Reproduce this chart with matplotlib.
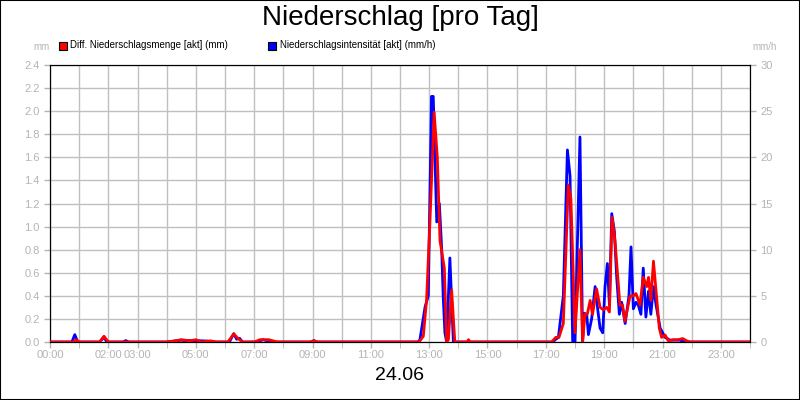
import matplotlib
matplotlib.use("Agg")
import matplotlib.pyplot as plt
from matplotlib.patches import Rectangle

plt.rcParams['font.family'] = ['Liberation Sans', 'DejaVu Sans']

# blue: Niederschlagsintensität (mm/h), time in hours
blue_t = [0, 0.75, 0.85, 0.95, 1.05, 1.7, 1.85, 1.95, 2.5, 2.6, 2.7, 4.0, 4.5, 4.6, 5.0, 5.4, 5.5,
          6.15, 6.3, 6.4, 6.5, 6.6, 7.1, 7.3, 7.6, 8.95, 9.05, 9.15,
          12.60, 12.68, 12.86, 12.97, 13.08, 13.14, 13.26, 13.35, 13.43, 13.48, 13.54, 13.60, 13.71, 13.83, 13.88,
          17.25, 17.3, 17.43, 17.60, 17.74, 17.83, 17.92, 18.00, 18.17, 18.26, 18.32, 18.40, 18.46, 18.57, 18.69,
          18.78, 18.86, 18.95, 19.03, 19.11, 19.18, 19.26, 19.35, 19.43, 19.52, 19.60, 19.72, 19.85, 19.92,
          20.00, 20.09, 20.17, 20.26, 20.34, 20.43, 20.52, 20.60, 20.69, 20.78, 20.92, 21.09, 21.26, 21.43,
          21.60, 21.75, 24.0]
blue_v = [0, 0, 0.8, 0, 0, 0, 0.5, 0, 0, 0.15, 0, 0, 0.2, 0.15, 0.15, 0.1, 0,
          0, 0.9, 0.3, 0.4, 0, 0, 0.25, 0, 0, 0.15, 0,
          0, 0.2, 3.8, 5.0, 26.6, 26.6, 13.0, 15.0, 10.0, 5.0, 1.0, 0, 9.1, 0, 0,
          0, 0.2, 0.5, 5.0, 20.8, 18.0, 0, 0, 22.2, 0, 3.1, 3.0, 0.8, 2.5, 6.0,
          3.5, 1.5, 1.0, 6.0, 8.5, 4.0, 13.9, 12.0, 7.0, 3.0, 4.3, 2.0, 5.0, 10.3,
          3.6, 4.3, 4.0, 3.0, 8.0, 2.7, 5.5, 3.0, 6.0, 4.0, 1.5, 0.5, 0.2, 0.2,
          0.2, 0, 0]

# red: Diff. Niederschlagsmenge (mm)
red_t = [0, 0.8, 0.9, 1.0, 1.7, 1.85, 2.0, 4.0, 4.3, 4.5, 4.8, 5.0, 5.2, 5.5, 5.7, 6.1, 6.3, 6.45, 6.6,
         7.0, 7.2, 7.5, 7.8, 8.9, 9.05, 9.2,
         12.65, 12.80, 12.91, 13.02, 13.17, 13.28, 13.37, 13.52, 13.60, 13.66, 13.77, 13.88, 14.3, 14.35, 14.4,
         17.2, 17.34, 17.45, 17.60, 17.77, 17.86, 18.00, 18.17, 18.26, 18.34, 18.42, 18.52, 18.60, 18.74, 18.86,
         18.97, 19.09, 19.18, 19.27, 19.37, 19.54, 19.63, 19.71, 19.89, 20.00, 20.09, 20.23, 20.34, 20.46,
         20.52, 20.60, 20.69, 20.78, 20.89, 20.97, 21.09, 21.20, 21.37, 21.54, 21.69, 21.83, 21.95, 24.0]
red_v = [0, 0, 0.02, 0, 0, 0.05, 0, 0, 0.01, 0.02, 0.01, 0.02, 0, 0.01, 0, 0, 0.07, 0.03, 0,
         0, 0.02, 0.02, 0, 0, 0.01, 0,
         0, 0.05, 0.36, 1.0, 1.99, 1.6, 0.88, 0.64, 0, 0.02, 0.45, 0, 0, 0.02, 0,
         0, 0.04, 0.04, 0.16, 1.36, 1.24, 0.08, 0.80, 0, 0.24, 0.24, 0.36, 0.24, 0.46, 0.30,
         0.28, 0.30, 0.26, 1.08, 0.88, 0.32, 0.32, 0.18, 0.40, 0.40, 0.42, 0.32, 0.56, 0.48,
         0.56, 0.36, 0.70, 0.44, 0.12, 0.04, 0.06, 0.01, 0.02, 0.02, 0.03, 0.01, 0, 0]

xtick_pos = [0, 2, 3, 5, 7, 9, 11, 13, 15, 17, 19, 21, 23]
xtick_labels = ["00:00", "02:00", "03:00", "05:00", "07:00", "09:00", "11:00",
                "13:00", "15:00", "17:00", "19:00", "21:00", "23:00"]

gray = '#b4b4b4'
fig = plt.figure(figsize=(8, 4), dpi=100)
fig.patches.append(Rectangle((0, 0), 1, 1, transform=fig.transFigure, fill=False,
                             edgecolor='black', linewidth=1.5))
ax = fig.add_axes([50/800, 1-342/400, 700/800, 277/400])
ax2 = ax.twinx()

ax.set_xlim(0, 24)
ax.set_ylim(0, 2.4)
ax2.set_ylim(0, 30)
ax.set_xticks(range(0, 25), minor=True)
ax.set_xticks(xtick_pos)
ax.set_xticklabels(xtick_labels)
ax.set_yticks([i*0.2 for i in range(13)])
ax.set_yticklabels([f"{i*0.2:.1f}" for i in range(13)])
ax2.set_yticks([0, 5, 10, 15, 20, 25, 30])
ax2.set_yticklabels(["0", "5", "10", "15", "20", "25", "30"])
ax.grid(True, which='both', axis='x', color='#c0c0c0', linewidth=1)
ax.grid(True, which='major', axis='y', color='#c0c0c0', linewidth=1)
ax.set_axisbelow(True)
for a in (ax, ax2):
    a.tick_params(colors=gray, labelsize=8, length=4, width=1)
    a.tick_params(which='minor', length=4, color=gray)
    for s in a.spines.values():
        s.set_color('black')
ax.tick_params(axis='x', pad=2)

ax2.plot(blue_t, blue_v, color='#0000ff', linewidth=2, zorder=2)
ax2.plot([t for t in red_t], [v*12.5 for v in red_v], color='#ff0000', linewidth=2, zorder=3)

fig.text(0.5, 0.955, "Niederschlag [pro Tag]", ha='center', va='center', fontsize=20)
fig.text(0.5, 0.06, "24.06", ha='center', va='center', fontsize=14)
fig.text(33/800, 1-47/400, "mm", ha='left', va='center', fontsize=7, color=gray)
fig.text(752/800, 1-47/400, "mm/h", ha='left', va='center', fontsize=7, color=gray)

fig.patches.append(Rectangle((59/800, 1-50/400), 8/800, 8/400, transform=fig.transFigure,
                             facecolor='#ff0000', edgecolor='black', linewidth=0.8))
fig.text(70/800, 1-45.5/400, "Diff. Niederschlagsmenge [akt] (mm)", fontsize=7, va='center')
fig.patches.append(Rectangle((268/800, 1-50/400), 8/800, 8/400, transform=fig.transFigure,
                             facecolor='#0000ff', edgecolor='black', linewidth=0.8))
fig.text(280/800, 1-45.5/400, "Niederschlagsintensität [akt] (mm/h)", fontsize=7, va='center')

fig.savefig("out.png", dpi=100)
